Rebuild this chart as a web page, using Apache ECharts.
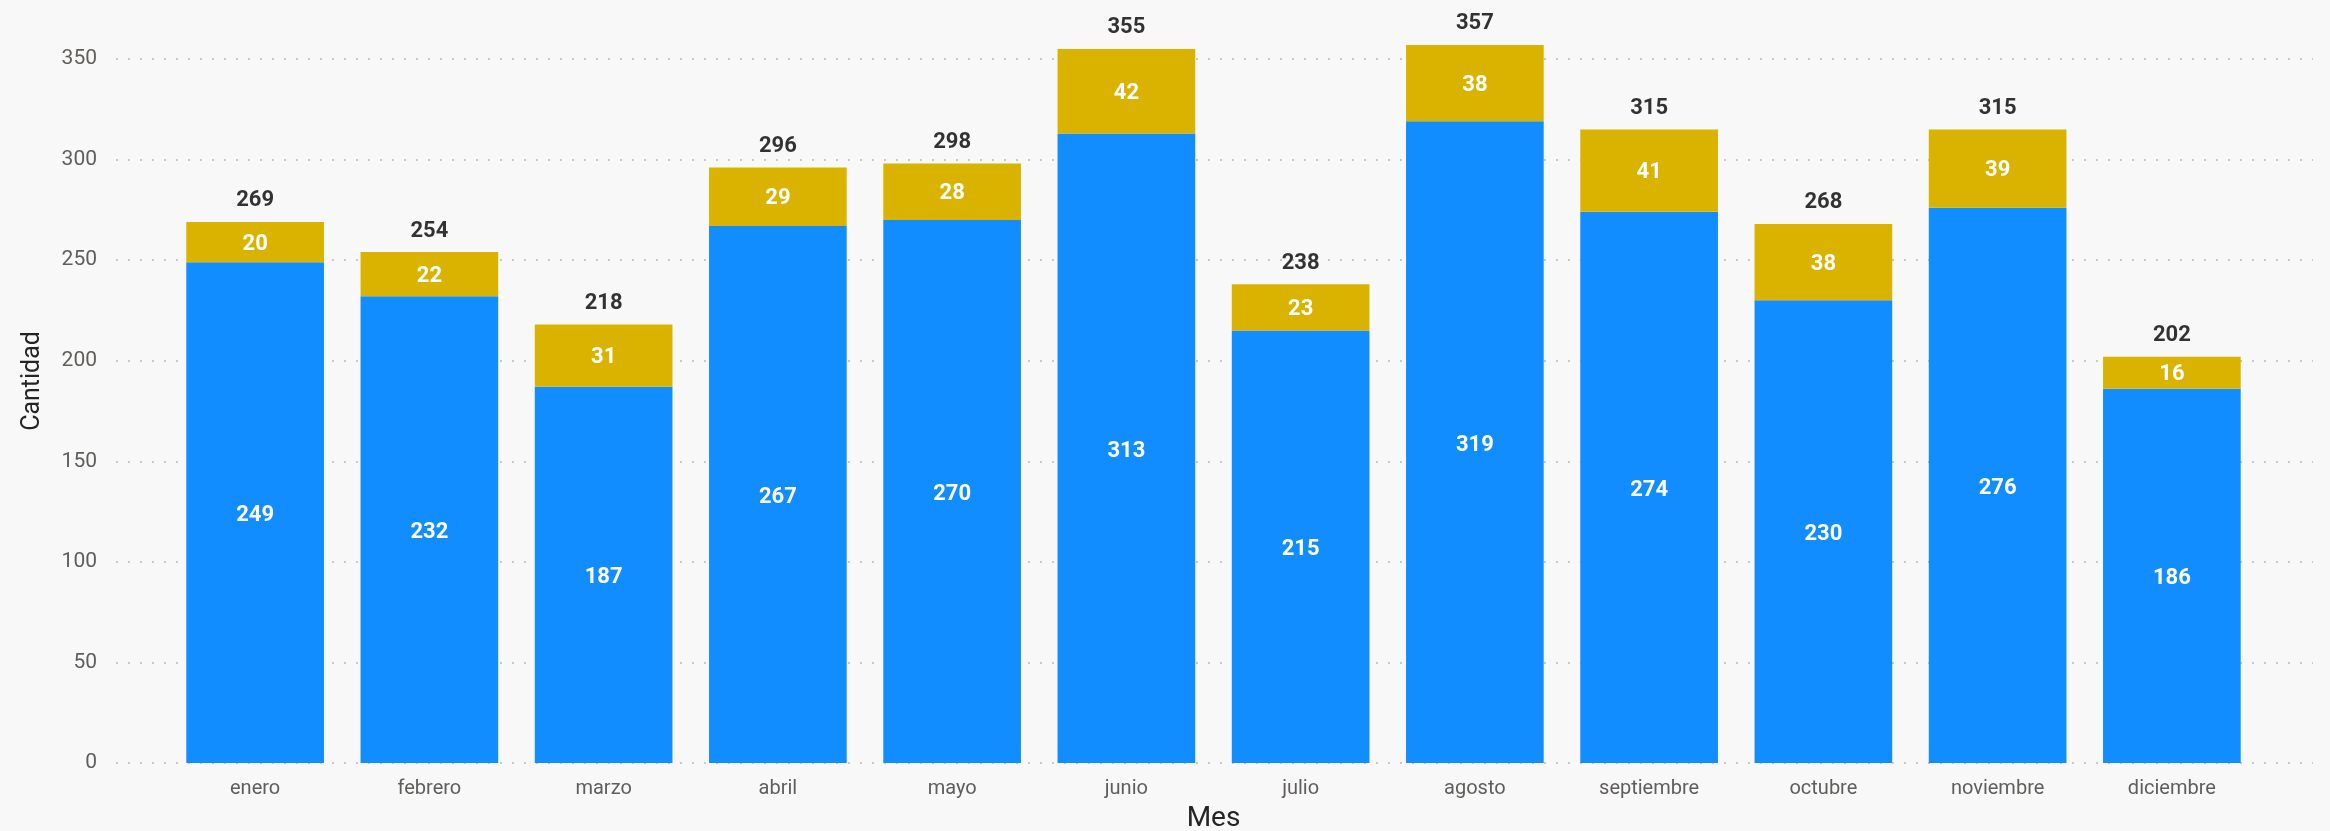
<!DOCTYPE html>
<html>
<head>
<meta charset="utf-8">
<script src="https://cdn.jsdelivr.net/npm/echarts@6/dist/echarts.min.js"></script>
<style>
html,body{margin:0;padding:0;background:#f8f8f8;}
#c{width:2330px;height:831px;}
</style>
</head>
<body>
<div id="c"></div>
<script>
const meses = ['enero','febrero','marzo','abril','mayo','junio','julio','agosto','septiembre','octubre','noviembre','diciembre'];
const serieAzul = [249,232,187,267,270,313,215,319,274,230,276,186];
const serieAmarilla = [20,22,31,29,28,42,23,38,41,38,39,16];
const totales = [269,254,218,296,298,355,238,357,315,268,315,202];
const yTicks = [0,50,100,150,200,250,300,350];

const FONT = 'Roboto';
const chart = echarts.init(document.getElementById('c'), null, {renderer:'canvas'});
const yMin = yTicks[0], yMax = yTicks[yTicks.length-1], yInt = yTicks[1]-yTicks[0];

chart.setOption({
  backgroundColor:'#f8f8f8',
  animation:false,
  grid:[
    {left:116, right:17, top:59, bottom:68, outerBoundsMode:'none', containLabel:false},
    {left:168, right:71, top:59, bottom:68, outerBoundsMode:'none', containLabel:false}
  ],
  xAxis:[
    {type:'category', gridIndex:0, data:meses, show:false},
    {type:'category', gridIndex:1, data:meses,
     axisLine:{show:false}, axisTick:{show:false},
     axisLabel:{color:'#605e5c', fontFamily:FONT, fontSize:20, margin:16},
     name:'Mes', nameLocation:'middle', nameGap:42,
     nameTextStyle:{color:'#252423', fontFamily:FONT, fontSize:28}
    }
  ],
  yAxis:[
    {type:'value', gridIndex:0, min:yMin, max:yMax, interval:yInt,
     axisLine:{show:false}, axisTick:{show:false},
     axisLabel:{color:'#605e5c', fontFamily:FONT, fontSize:21, margin:19},
     splitLine:{lineStyle:{color:'#c8c8c8', width:2, type:[2,10]}},
     name:'Cantidad', nameLocation:'middle', nameGap:71,
     nameTextStyle:{color:'#252423', fontFamily:FONT, fontSize:25, padding:[0,0,0,60]}
    },
    {type:'value', gridIndex:1, min:yMin, max:yMax, interval:yInt, show:false,
     splitLine:{show:false}}
  ],
  series:[
    {type:'bar', name:'A', xAxisIndex:1, yAxisIndex:1, stack:'s', data:serieAzul,
     barCategoryGap:'21%', clip:false,
     itemStyle:{color:'#118dff'},
     label:{show:true, position:'inside', offset:[0,3], color:'#ffffff', fontFamily:FONT, fontWeight:'bold', fontSize:22}
    },
    {type:'bar', name:'B', xAxisIndex:1, yAxisIndex:1, stack:'s', data:serieAmarilla,
     barCategoryGap:'21%', clip:false,
     itemStyle:{color:'#d9b300'},
     label:{show:true, position:'inside', offset:[0,2], color:'#ffffff', fontFamily:FONT, fontWeight:'bold', fontSize:22}
    },
    {type:'scatter', name:'Total', xAxisIndex:1, yAxisIndex:1, data:totales,
     symbolSize:0, clip:false, silent:true,
     label:{show:true, position:'top', distance:10, color:'#000000', fontFamily:FONT, fontWeight:'bold', fontSize:22}
    }
  ]
});
</script>
</body>
</html>
